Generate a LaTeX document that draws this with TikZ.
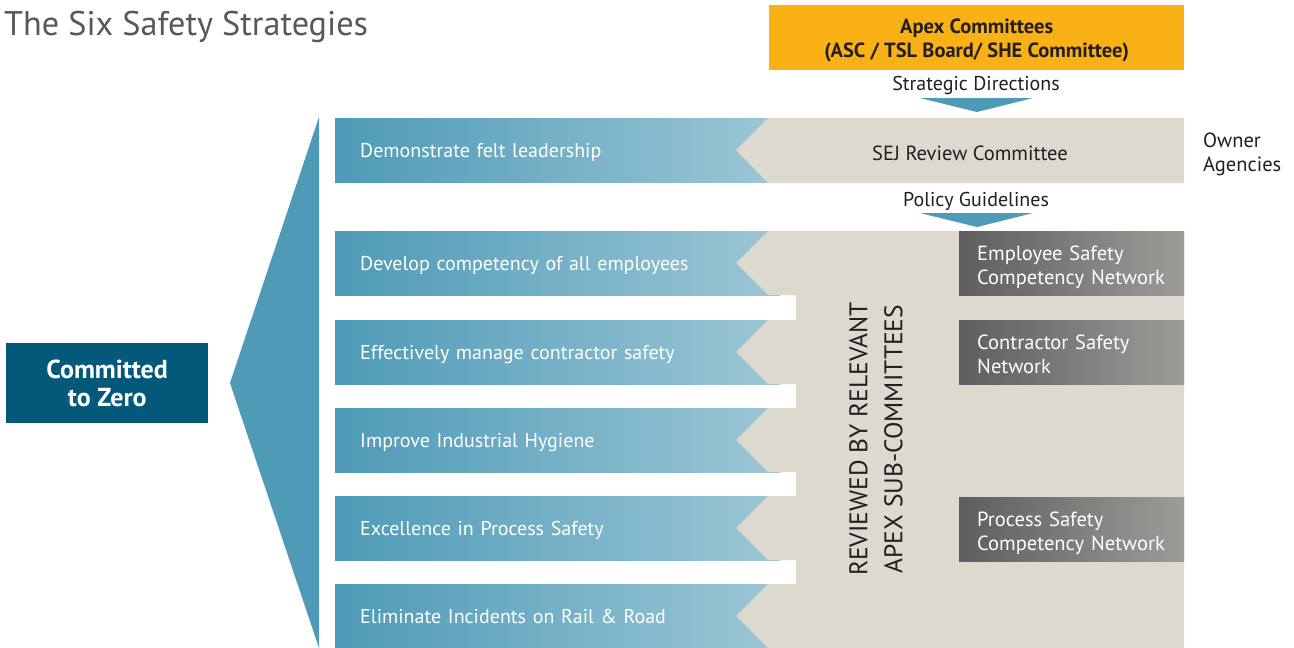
\documentclass[tikz,border=0pt]{standalone}
\usepackage{fontspec}
\setmainfont{PT Sans}
\definecolor{apexorange}{HTML}{F9B116}
\definecolor{blueA}{HTML}{4E9AB7}
\definecolor{blueB}{HTML}{9DC7D6}
\definecolor{beige}{HTML}{DDD9CF}
\definecolor{teal}{HTML}{04597A}
\definecolor{greyA}{HTML}{5E5D5F}
\definecolor{greyB}{HTML}{9E9C98}
\definecolor{ink}{HTML}{231F20}
\definecolor{titleink}{HTML}{58585A}
\begin{document}
\begin{tikzpicture}[x=1pt,y=-1pt,
  bar/.style={anchor=north west, minimum width=445, minimum height=64, inner sep=0,
    left color=blueA, right color=blueB, text=white, align=left, text width=420,
    text depth=0pt, font=\fontsize{20}{24}\selectfont},
  netbox/.style={anchor=north west, minimum width=225, minimum height=64, inner sep=0,
    left color=greyA, right color=greyB, text=white, align=left, text width=205,
    text depth=20pt, font=\fontsize{20.5}{24}\selectfont},
  label/.style={text=ink, inner sep=0, font=\fontsize{20}{24}\selectfont},
  downtri/.style={fill=blueA}
]
\useasboundingbox (0,0) rectangle (1294,648);
\fill[white] (0,0) rectangle (1294,648);

% title
\node[anchor=base west, inner sep=0, text=titleink, font=\fontsize{34.2}{40}\selectfont] (title) at (4,35) {The Six Safety Strategies};

% apex box
\node[anchor=north west, fill=apexorange, minimum width=415, minimum height=65, inner sep=0,
  align=center, text=ink, text depth=0pt, font=\bfseries\fontsize{20.5}{24}\selectfont] (apex) at (769,5)
  {Apex Committees\\(ASC / TSL Board/ SHE Committee)};
\node[label] (sd) at (976,85) {Strategic Directions};
\fill[downtri] (920,98) -- (1033,98) -- (977,112) -- cycle;

% left fan and committed box
\fill[blueA] (319,117) -- (319,648) -- (230,383) -- cycle;
\node[anchor=north west, fill=teal, minimum width=202, minimum height=80, inner sep=0,
  align=center, text=white, text depth=0pt, font=\bfseries\fontsize{26}{28}\selectfont] (zero) at (6,343)
  {Committed\\to Zero};

% strategy bars
\node[bar] (s1) at (335,118) {\hspace*{12.5pt}Demonstrate felt leadership};
\node[bar] (s2) at (335,231) {\hspace*{12.5pt}Develop competency of all employees};
\node[bar] (s3) at (335,320) {\hspace*{12.5pt}Effectively manage contractor safety};
\node[bar] (s4) at (335,408) {\hspace*{12.5pt}Improve Industrial Hygiene};
\node[bar] (s5) at (335,496) {\hspace*{12.5pt}Excellence in Process Safety};
\node[bar] (s6) at (335,584) {\hspace*{12.5pt}Eliminate Incidents on Rail \& Road};

% SEJ review band
\fill[beige] (1184,118) -- (768,118) -- (736,150) -- (768,183) -- (1184,183) -- cycle;
\node[label, font=\fontsize{20.5}{24}\selectfont] (sej) at (970,153) {SEJ Review Committee};
\node[label, anchor=west, align=left, font=\fontsize{20.5}{24}\selectfont] (owner) at (1203,154) {Owner\\Agencies};

\node[label] (pg) at (976,201) {Policy Guidelines};
\fill[downtri] (920,213) -- (1033,213) -- (977,227) -- cycle;

% lower beige region
\fill[beige] (1184,231) -- (768,231) -- (736,263) -- (768,295) -- (796,295) -- (796,320)
  -- (768,320) -- (736,352) -- (768,384) -- (796,384) -- (796,408)
  -- (768,408) -- (736,440) -- (768,472) -- (796,472) -- (796,496)
  -- (768,496) -- (736,528) -- (768,560) -- (796,560) -- (796,584)
  -- (768,584) -- (736,616) -- (768,648) -- (1184,648) -- cycle;

\node[rotate=90, text=ink, inner sep=0, align=center, font=\fontsize{25.5}{35}\selectfont] (rev) at (876,439)
  {REVIEWED BY RELEVANT\\APEX SUB-COMMITTEES};

% networks
\node[netbox] (n1) at (959,231) {\hspace*{8pt}Employee Safety\\\hspace*{8pt}Competency Network};
\node[netbox] (n2) at (959,320) {\hspace*{8pt}Contractor Safety\\\hspace*{8pt}Network};
\node[netbox] (n3) at (959,497) {\hspace*{8pt}Process Safety\\\hspace*{8pt}Competency Network};
\end{tikzpicture}
\end{document}
